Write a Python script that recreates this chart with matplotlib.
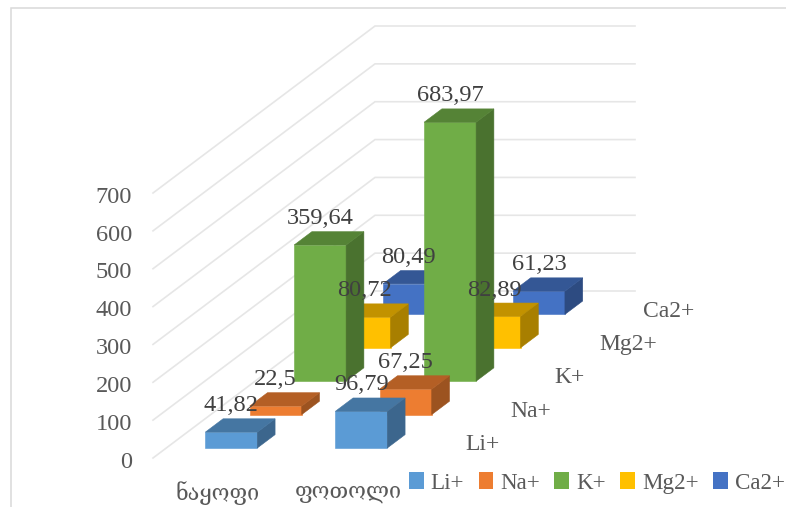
import matplotlib
matplotlib.use("Agg")
import matplotlib.pyplot as plt
from matplotlib.patches import Polygon, Patch
from matplotlib.lines import Line2D
from matplotlib.colors import to_rgb
from matplotlib.transforms import ScaledTranslation

categories = ["ნაყოფი", "ფოთოლი"]
series_names = ["Li+", "Na+", "K+", "Mg2+", "Ca2+"]
li_values = [41.82, 96.79]
na_values = [22.5, 67.25]
k_values = [359.64, 683.97]
mg_values = [80.72, 82.89]
ca_values = [80.49, 61.23]
label_li = ["41,82", "96,79"]
label_na = ["22,5", "67,25"]
label_k = ["359,64", "683,97"]
label_mg = ["80,72", "82,89"]
label_ca = ["80,49", "61,23"]
value_ticks = [0, 100, 200, 300, 400, 500, 600, 700]
colors = ["#5B9BD5", "#ED7D31", "#70AD47", "#FFC000", "#4472C4"]

series_values = [li_values, na_values, k_values, mg_values, ca_values]
series_labels = [label_li, label_na, label_k, label_mg, label_ca]

W, H = 786, 507
FONT = ["Liberation Serif", "DejaVu Serif", "DejaVu Sans"]
FS = 17
plt.rcParams["font.family"] = FONT

fig = plt.figure(figsize=(W / 100, H / 100), dpi=100)
ax = fig.add_axes([153 / W, (H - 458) / H, 260 / W, 265 / H])
ax.set_xlim(0, 2)
ax.set_ylim(0, 700)
ax.patch.set_visible(False)
for s in ax.spines.values():
    s.set_visible(False)

# oblique depth projection, one series slot = these shifts in data units
DX = 44.4 / 130
DY = 33.4 / (265 / 700)


def proj(c, v, d):
    return c + DX * d, v + DY * d


def shade(col, f):
    return tuple(x * f for x in to_rgb(col))


# walls' gridlines
depth_total = len(series_names)
for v in value_ticks:
    pts = [proj(0, v, 0), proj(0, v, depth_total), proj(2, v, depth_total)]
    ax.plot(*zip(*pts), color="#e6e6e6", lw=1.2, clip_on=False, zorder=1,
            solid_joinstyle="miter")

# bars, painted back to front
z = 2
for j in reversed(range(len(series_names))):
    for i, val in enumerate(series_values[j]):
        c0, c1 = i + 0.3, i + 0.7
        d0, d1 = j + 0.3, j + 0.7
        front = [proj(c0, 0, d0), proj(c1, 0, d0), proj(c1, val, d0), proj(c0, val, d0)]
        side = [proj(c1, 0, d0), proj(c1, 0, d1), proj(c1, val, d1), proj(c1, val, d0)]
        top = [proj(c0, val, d0), proj(c1, val, d0), proj(c1, val, d1), proj(c0, val, d1)]
        col = colors[j]
        for pts, fc in ((front, to_rgb(col)), (side, shade(col, 0.66)), (top, shade(col, 0.76))):
            ax.add_patch(Polygon(pts, closed=True, facecolor=fc, edgecolor=fc, lw=0.4,
                                 clip_on=False, zorder=z))
        z += 1

# data labels
for j in range(len(series_names)):
    for i, lab in enumerate(series_labels[j]):
        xy = proj(i + 0.5, series_values[j][i], j + 0.3)
        ax.annotate(lab, xy=xy, xytext=(0, 19.0), textcoords="offset points",
                    ha="center", va="center", fontsize=17.6, color="#404040",
                    annotation_clip=False, zorder=100)

# value axis
ax.set_yticks(value_ticks)
ax.tick_params(axis="y", length=0, pad=15, labelsize=17.6, labelcolor="#595959")
shift = ScaledTranslation(0, -1.2 / 72, fig.dpi_scale_trans)
for t in ax.get_yticklabels():
    t.set_transform(t.get_transform() + shift)
# category axis
ax.set_xticks([0.5, 1.5])
ax.set_xticklabels(categories, family=["DejaVu Serif", "DejaVu Sans"], fontsize=15.6, color="#595959")
ax.tick_params(axis="x", length=0, pad=16.5)

# series axis
for j, name in enumerate(series_names):
    x, y = proj(2, 0, j + 0.5)
    ax.annotate(name, xy=(x, y), xytext=(22, -2.4), textcoords="offset points",
                ha="left", va="center", fontsize=FS, color="#595959",
                annotation_clip=False)

# legend
handles = [Patch(facecolor=c, edgecolor="none", label=n) for c, n in zip(colors, series_names)]
leg = fig.legend(handles=handles, ncol=5, loc="center right",
                 bbox_to_anchor=(785 / W, (H - 483) / H), frameon=False, fontsize=16.6,
                 labelcolor="#595959", handlelength=0.65, handleheight=0.7,
                 handletextpad=0.3, columnspacing=0.62, borderpad=0, borderaxespad=0)

# chart frame (cropped at right and bottom)
frame_col = "#d9d9d9"
fig.add_artist(Line2D([10.5 / W, 10.5 / W, 1], [0, (H - 7.5) / H, (H - 7.5) / H],
                      color=frame_col, lw=1.1, solid_joinstyle="miter"))

fig.savefig("out.png", dpi=100)
